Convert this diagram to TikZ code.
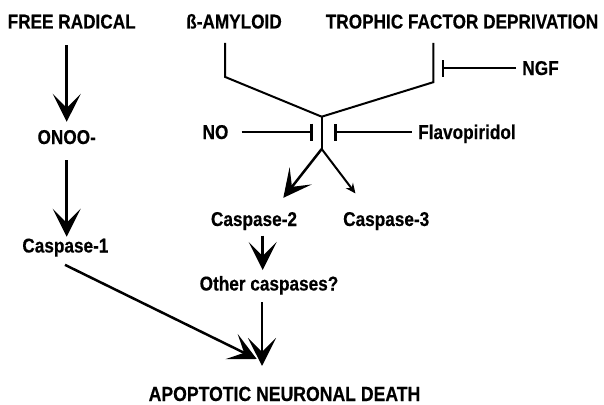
\documentclass[tikz,border=0pt]{standalone}
\usepackage{fontspec}
\setmainfont{Liberation Sans}[FakeStretch=0.86,FakeBold=0.4]
\usetikzlibrary{arrows.meta,calc}
\begin{document}
\begin{tikzpicture}[x=1pt,y=-1pt,
  lab/.style={font=\fontsize{20}{23}\selectfont\bfseries, inner sep=0pt},
  big/.style={line width=2.5pt, -{Stealth[length=28pt,width=28pt,inset=14pt]}},
  small/.style={line width=2pt, -{Stealth[length=10pt,width=9pt,inset=3.5pt]}},
  tree/.style={line width=2pt},
  inh/.style={line width=1.5pt, -{Bar[width=17pt,line width=2.5pt]}}]
\useasboundingbox (0,0) rectangle (604,404);
\node[lab,anchor=base] (fr) at (71.7,28.5) {FREE RADICAL};
\node[lab,anchor=base] (amy) at (234,28.5) {ß-AMYLOID};
\node[lab,anchor=base] (tro) at (462,28.5) {TROPHIC FACTOR DEPRIVATION};
\node[lab,anchor=base] (ngf) at (540.5,75) {NGF};
\node[lab,anchor=base] (no) at (215.5,139) {NO};
\node[lab,anchor=base west] (flav) at (418,139) {Flavopiridol};
\node[lab,anchor=base] (onoo) at (66.7,144) {ONOO-};
\node[lab,anchor=base] (c1) at (65.4,252.5) {Caspase-1};
\node[lab,anchor=base] (c2) at (254,226) {Caspase-2};
\node[lab,anchor=base west] (c3) at (343,226) {Caspase-3};
\node[lab,anchor=base] (oth) at (269,290.5) {Other caspases?};
\node[lab,font=\fontsize{20.5}{24}\selectfont\bfseries,anchor=base] (death) at (284.5,401) {APOPTOTIC NEURONAL DEATH};
\coordinate (J) at (321.7,116.7);
\coordinate (S) at (321.7,149);
% converging tree
\draw[tree] ($(amy.south)+(-9,14)$) -- ++(0,34) -- (J);
\draw[tree] ($(tro.south)+(-28.7,14)$) -- ++(0,39.3) -- (J);
\draw[tree] (J) -- (S);
\draw[big] (S) -- ($(c2.north)+(29.3,-14)$);
\draw[small] (S) -- ($(c3.north)+(-30.8,-18.4)$);
% inhibitors
\draw[inh] ($(ngf.west)+(-6,0)$) -- ($(J |- ngf.west)+(120,0)$);
\draw[inh] ($(no.east)+(13,0)$) -- ($(J |- no.east)+(-9,0)$);
\draw[inh] ($(flav.west |- no.east)+(-6.3,0)$) -- ($(J |- no.east)+(12.6,0)$);
% left chain
\draw[big] ($(fr.south -| onoo.north)+(0,16.5)$) -- ($(onoo.north)+(0,-8)$);
\draw[big] ($(onoo.south)+(0,16)$) -- ($(c1.north -| onoo.north)+(0,-1.6)$);
\draw[big] ($(c1.south)+(-0.4,8)$) -- ($(death.north)+(-27.8,-27.5)$);
% middle chain
\draw[big] ($(c2.south)+(8.7,5.3)$) -- ($(oth.north)+(-6.3,-5.8)$);
\draw[big] ($(oth.south)+(-7,7.3)$) -- ($(death.north)+(-22.5,-20.5)$);
\end{tikzpicture}
\end{document}
